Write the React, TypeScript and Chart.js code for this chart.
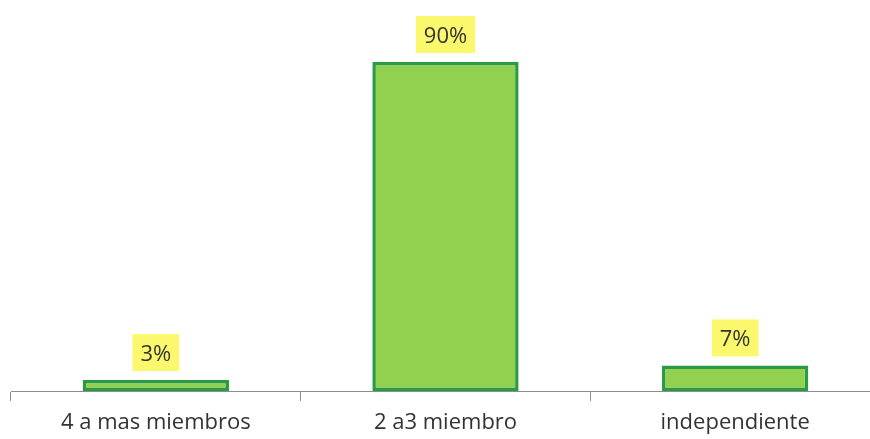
import React, { useEffect, useRef } from "react";
import { Chart, registerables } from "chart.js";

Chart.register(...registerables);

const categories: string[] = ["4 a mas miembros", "2 a3 miembro", "independiente"];
const values: number[] = [3, 90, 7];
const valueLabels: string[] = ["3%", "90%", "7%"];

const FONT = "'Open Sans', 'Liberation Sans', sans-serif";

// Yellow value tags drawn above each bar
const valueTagPlugin = {
  id: "valueTags",
  afterDatasetsDraw(chart: any) {
    const { ctx } = chart;
    const meta = chart.getDatasetMeta(0);
    ctx.save();
    ctx.font = `22px ${FONT}`;
    ctx.textAlign = "center";
    ctx.textBaseline = "middle";
    meta.data.forEach((bar: any, i: number) => {
      const text = valueLabels[i];
      const w = ctx.measureText(text).width + 16;
      const h = 37;
      const bottom = bar.y - 9;
      ctx.fillStyle = "#FBF86E";
      ctx.fillRect(bar.x - w / 2, bottom - h, w, h);
      ctx.fillStyle = "#333333";
      ctx.fillText(text, bar.x, bottom - h / 2 + 2);
    });
    ctx.restore();
  },
};

export default function App() {
  const canvasRef = useRef<HTMLCanvasElement | null>(null);

  useEffect(() => {
    if (!canvasRef.current) return;
    const chart = new Chart(canvasRef.current, {
      type: "bar",
      data: {
        labels: categories,
        datasets: [
          {
            data: values,
            backgroundColor: "#92D050",
            borderColor: "#2A9A43",
            borderWidth: 3.5,
            borderSkipped: false,
            categoryPercentage: 1,
            barPercentage: 0.505,
          },
        ],
      },
      options: {
        animation: false,
        responsive: true,
        maintainAspectRatio: false,
        layout: { padding: { top: 25.5, left: 11, right: 0, bottom: 0 } },
        plugins: {
          legend: { display: false },
          tooltip: { enabled: false },
        },
        scales: {
          x: {
            offset: true,
            grid: {
              display: true,
              drawOnChartArea: false,
              drawTicks: true,
              tickLength: 10,
              color: "#8C8C8C",
              lineWidth: 1,
            },
            border: { display: true, color: "#8C8C8C", width: 1 },
            ticks: {
              color: "#333333",
              font: { family: FONT, size: 22 },
              padding: 9,
              maxRotation: 0,
              autoSkip: false,
            },
            afterFit(scale: any) {
              scale.height = 48;
            },
          },
          y: {
            display: false,
            min: 0,
            max: 100,
          },
        },
      },
      plugins: [valueTagPlugin],
    });
    return () => chart.destroy();
  }, []);

  return (
    <div
      style={{
        position: "absolute",
        left: 0,
        top: 0,
        width: 870,
        height: 439,
        overflow: "hidden",
        background: "#ffffff",
      }}
    >
      <div style={{ position: "relative", width: 880, height: 439 }}>
        <canvas ref={canvasRef} />
      </div>
    </div>
  );
}
